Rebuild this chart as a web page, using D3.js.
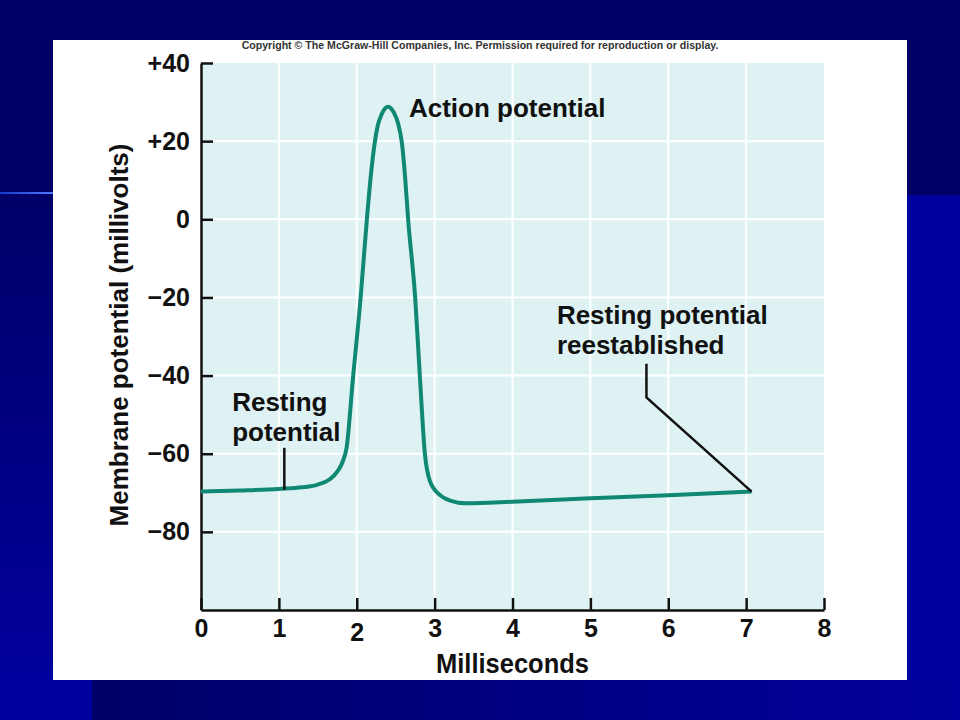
<!DOCTYPE html>
<html>
<head>
<meta charset="utf-8">
<script src="https://cdn.jsdelivr.net/npm/d3@7"></script>
<style>
  body { margin: 0; background: #00009c; }
  svg text { font-family: "Liberation Sans", Arial, Helvetica, sans-serif; font-weight: bold; }
</style>
</head>
<body>
<svg id="chart" width="960" height="720"></svg>
<script>
'use strict';

// data (time in ms, membrane potential in mV)
var timeMs = [0, 0.5, 1.0, 1.3, 1.5, 1.65, 1.75, 1.82, 1.87, 1.95, 2.05, 2.13, 2.18, 2.23, 2.27, 2.32, 2.36, 2.4, 2.44, 2.48, 2.53, 2.58, 2.62, 2.66, 2.75, 2.81, 2.875, 2.94, 3.07, 3.2, 3.4, 4.0, 5.0, 6.0, 7.07];
var potentialMv = [-69.7, -69.4, -69.0, -68.6, -67.9, -66.6, -64.6, -62, -58.4, -41, -20, 0, 11, 19.5, 24, 26.9, 28.3, 28.8, 28.4, 27.2, 24.6, 19.5, 11, 0, -20, -40, -60, -67, -70.6, -72, -72.7, -72.3, -71.4, -70.6, -69.7];

var xTicks = [0, 1, 2, 3, 4, 5, 6, 7, 8];
var xTickLabels = ["0", "1", "2", "3", "4", "5", "6", "7", "8"];
var yTicks = [40, 20, 0, -20, -40, -60, -80];
var yTickLabels = ["+40", "+20", "0", "\u221220", "\u221240", "\u221260", "\u221280"];

var xTitle = "Milliseconds";
var yTitle = "Membrane potential (millivolts)";
var copyright = "Copyright \u00a9 The McGraw-Hill Companies, Inc. Permission required for reproduction or display.";

// annotation labels: text lines, anchor point in data units, leader polyline in data units
var notes = [
  { lines: ["Action potential"], at: [2.67, 26.2], leader: [] },
  { lines: ["Resting", "potential"], at: [0.40, -49], leader: [[1.07, -58.5], [1.07, -69.2]] },
  { lines: ["Resting potential", "reestablished"], at: [4.57, -26.9], leader: [[5.72, -37], [5.72, -45.6], [7.07, -69.7]] }
];

var svg = d3.select("#chart");

// ---- slide background ----
var defs = svg.append("defs");
var gLeft = defs.append("linearGradient").attr("id", "leftGrad")
  .attr("x1", 0).attr("y1", 0).attr("x2", 0).attr("y2", 1);
gLeft.append("stop").attr("offset", 0).attr("stop-color", "#000068");
gLeft.append("stop").attr("offset", 1).attr("stop-color", "#00009c");
var gBottom = defs.append("linearGradient").attr("id", "bottomGrad")
  .attr("x1", 0).attr("y1", 0).attr("x2", 1).attr("y2", 0);
gBottom.append("stop").attr("offset", 0).attr("stop-color", "#000068");
gBottom.append("stop").attr("offset", 1).attr("stop-color", "#00009c");
var gLine = defs.append("linearGradient").attr("id", "lineGrad")
  .attr("x1", 0).attr("y1", 0).attr("x2", 1).attr("y2", 0);
gLine.append("stop").attr("offset", 0).attr("stop-color", "#1a3acc");
gLine.append("stop").attr("offset", 1).attr("stop-color", "#4f7bff");

svg.append("rect").attr("width", 960).attr("height", 720).attr("fill", "#00009c");
svg.append("rect").attr("width", 960).attr("height", 195).attr("fill", "#000068");
svg.append("rect").attr("x", 0).attr("y", 195).attr("width", 92).attr("height", 485).attr("fill", "url(#leftGrad)");
svg.append("rect").attr("x", 92).attr("y", 680).attr("width", 868).attr("height", 40).attr("fill", "url(#bottomGrad)");
svg.append("rect").attr("x", 0).attr("y", 192).attr("width", 53).attr("height", 2).attr("fill", "url(#lineGrad)");

// white figure panel
svg.append("rect").attr("x", 53).attr("y", 40).attr("width", 854).attr("height", 640).attr("fill", "#ffffff");

svg.append("text")
  .attr("x", 480).attr("y", 49)
  .attr("text-anchor", "middle")
  .attr("font-size", 10.6)
  .attr("fill", "#333")
  .text(copyright);

// ---- scales ----
var x = d3.scaleLinear().domain([0, 8]).range([201, 824]);
var y = d3.scaleLinear().domain([-100, 40]).range([610, 63]);

// plot background
svg.append("rect")
  .attr("x", x(0)).attr("y", y(40))
  .attr("width", x(8) - x(0)).attr("height", y(-100) - y(40))
  .attr("fill", "#def2f3");

// grid
var grid = svg.append("g").attr("stroke", "#ffffff").attr("stroke-width", 2);
grid.selectAll("line.v").data(xTicks.filter(function (d) { return d > 0 && d < 8; }))
  .enter().append("line")
  .attr("x1", function (d) { return x(d); }).attr("x2", function (d) { return x(d); })
  .attr("y1", y(40)).attr("y2", y(-100));
grid.selectAll("line.h").data(yTicks.filter(function (d) { return d < 40; }))
  .enter().append("line")
  .attr("x1", x(0)).attr("x2", x(8))
  .attr("y1", function (d) { return y(d); }).attr("y2", function (d) { return y(d); });

// ---- axes ----
var yAxis = d3.axisLeft(y)
  .tickValues(yTicks)
  .tickFormat(function (d, i) { return yTickLabels[i]; })
  .tickSizeInner(-12).tickSizeOuter(0).tickPadding(11);
var gy = svg.append("g").attr("transform", "translate(" + x(0) + ",0)").call(yAxis);

var xAxis = d3.axisBottom(x)
  .tickValues(xTicks)
  .tickFormat(function (d, i) { return xTickLabels[i]; })
  .tickSizeInner(-12).tickSizeOuter(0).tickPadding(9);
var gx = svg.append("g").attr("transform", "translate(0," + y(-100) + ")").call(xAxis);

[gx, gy].forEach(function (g) {
  g.select(".domain").attr("stroke", "#111").attr("stroke-width", 2.5);
  g.selectAll(".tick line").attr("stroke", "#111").attr("stroke-width", 2.5);
  g.selectAll(".tick text")
    .attr("fill", "#111")
    .attr("font-size", 25)
    .attr("font-family", "\"Liberation Sans\", Arial, sans-serif")
    .attr("font-weight", "bold");
});
// the "2" sits a little low in the original
gx.selectAll(".tick text").filter(function (d) { return d === 2; }).attr("dy", "0.88em");

svg.append("text")
  .attr("x", x(4)).attr("y", 673)
  .attr("text-anchor", "middle")
  .attr("font-size", 27)
  .attr("textLength", 153)
  .attr("lengthAdjust", "spacingAndGlyphs")
  .attr("fill", "#111")
  .text(xTitle);

svg.append("text")
  .attr("transform", "translate(128,335) rotate(-90)")
  .attr("text-anchor", "middle")
  .attr("font-size", 26)
  .attr("fill", "#111")
  .text(yTitle);

// ---- curve ----
var points = timeMs.map(function (t, i) { return [t, potentialMv[i]]; });
var line = d3.line()
  .x(function (d) { return x(d[0]); })
  .y(function (d) { return y(d[1]); })
  .curve(d3.curveMonotoneX);

svg.append("path")
  .datum(points)
  .attr("fill", "none")
  .attr("stroke", "#0f8874")
  .attr("stroke-width", 4)
  .attr("stroke-linejoin", "round")
  .attr("d", line);

// ---- annotations ----
var noteG = svg.selectAll("g.note").data(notes).enter().append("g").attr("class", "note");
noteG.append("path")
  .attr("fill", "none")
  .attr("stroke", "#111")
  .attr("stroke-width", 2.5)
  .attr("d", function (d) {
    return d.leader.length ? d3.line().x(function (p) { return x(p[0]); }).y(function (p) { return y(p[1]); })(d.leader) : null;
  });
noteG.each(function (d) {
  var t = d3.select(this).append("text")
    .attr("x", x(d.at[0])).attr("y", y(d.at[1]))
    .attr("font-size", 26)
    .attr("fill", "#111");
  d.lines.forEach(function (s, i) {
    t.append("tspan").attr("x", x(d.at[0])).attr("dy", i ? 30 : 0).text(s);
  });
});
</script>
</body>
</html>
